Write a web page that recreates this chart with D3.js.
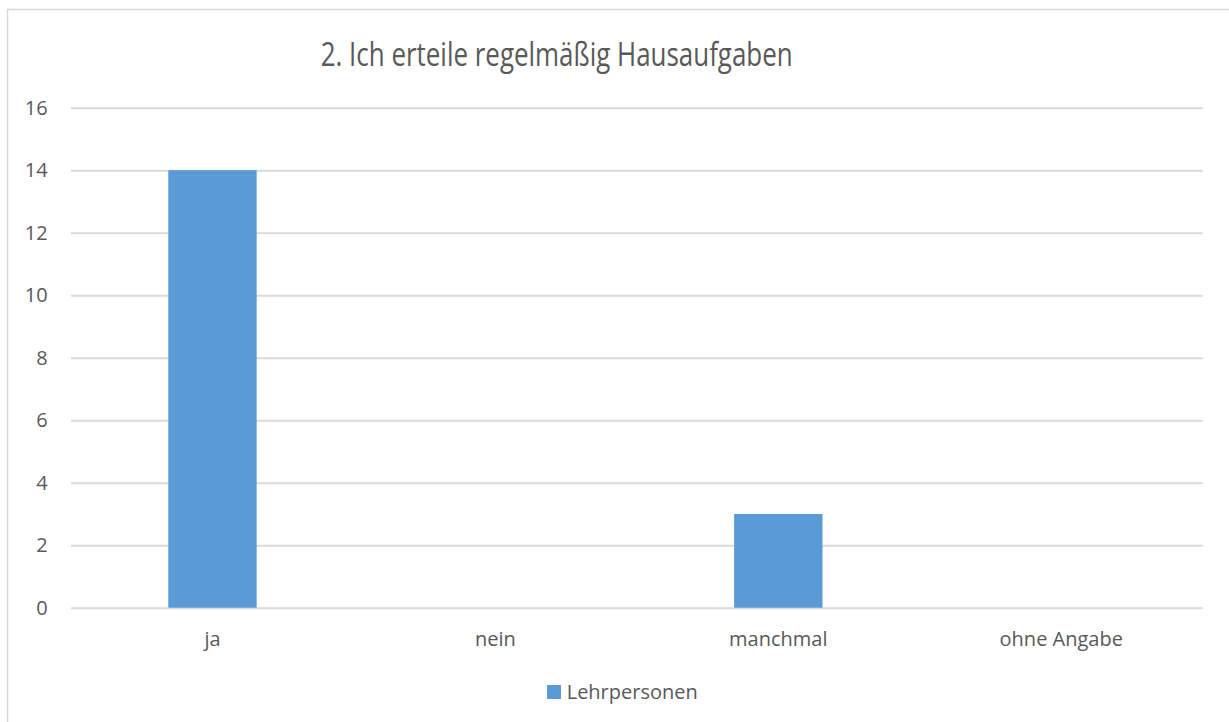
<!DOCTYPE html>
<meta charset="utf-8">
<style>
body { margin: 0; background: #fff; }
svg text { font-family: "Open Sans", sans-serif; fill: #595959; }
.grid line { stroke: #d9d9d9; stroke-width: 2; }
.grid path { display: none; }
.bar { fill: #5b9bd5; }
</style>
<svg width="1229" height="722"></svg>
<script src="https://cdn.jsdelivr.net/npm/d3@7"></script>
<script>

var categories = ["ja", "nein", "manchmal", "ohne Angabe"];
var lehrpersonen = [14, 0, 3, 0];
var yTicks = [0, 2, 4, 6, 8, 10, 12, 14, 16];
var titleText = "2. Ich erteile regelmäßig Hausaufgaben";
var seriesName = "Lehrpersonen";

var svg = d3.select("svg");

// chart frame (runs off the right and bottom edges)
svg.append("rect")
    .attr("x", 7.5).attr("y", 9.5)
    .attr("width", 1240).attr("height", 740)
    .attr("fill", "none")
    .attr("stroke", "#d9d9d9")
    .attr("stroke-width", 1.5);

var plotLeft = 71, plotRight = 1202.7, plotTop = 107.7, plotBottom = 607.7;

var x = d3.scaleBand()
    .domain(categories)
    .range([plotLeft, plotRight])
    .paddingInner(0.6875)
    .paddingOuter(0.34375);

var y = d3.scaleLinear()
    .domain([0, 16])
    .range([plotBottom, plotTop]);

svg.append("g")
    .attr("class", "grid")
    .attr("transform", "translate(" + plotLeft + ",0)")
    .call(d3.axisLeft(y).tickValues(yTicks).tickSize(-(plotRight - plotLeft)).tickFormat(""));

svg.append("g")
  .selectAll("text")
    .data(yTicks)
  .enter().append("text")
    .attr("x", 47.7)
    .attr("y", function(d) { return y(d); })
    .attr("dy", "0.36em")
    .attr("text-anchor", "end")
    .attr("font-size", 20)
    .text(function(d) { return d; });

svg.append("g")
  .selectAll("rect")
    .data(lehrpersonen)
  .enter().append("rect")
    .attr("class", "bar")
    .attr("x", function(d, i) { return x(categories[i]); })
    .attr("width", x.bandwidth())
    .attr("y", function(d) { return y(d); })
    .attr("height", function(d) { return y(0) - y(d); });

svg.append("g")
  .selectAll("text")
    .data(categories)
  .enter().append("text")
    .attr("x", function(d) { return x(d) + x.bandwidth() / 2; })
    .attr("y", 646)
    .attr("text-anchor", "middle")
    .attr("font-size", 20)
    .text(function(d) { return d; });

svg.append("text")
    .attr("x", 320.7)
    .attr("y", 65.7)
    .attr("font-size", 32)
    .attr("textLength", 472)
    .attr("lengthAdjust", "spacingAndGlyphs")
    .text(titleText);

var legend = svg.append("g");
legend.append("rect")
    .attr("x", 547).attr("y", 685)
    .attr("width", 14).attr("height", 14)
    .attr("fill", "#5b9bd5");
legend.append("text")
    .attr("x", 566.7)
    .attr("y", 699)
    .attr("font-size", 20)
    .text(seriesName);

</script>
